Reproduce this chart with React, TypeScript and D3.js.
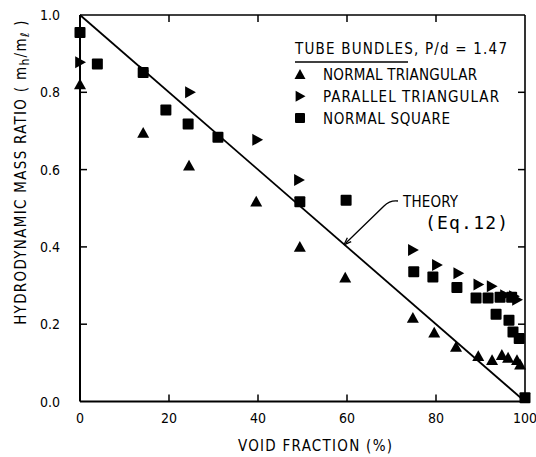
import React from "react";
import * as d3 from "d3";

const xTicks = [0, 20, 40, 60, 80, 100];
const yTicks = [0.0, 0.2, 0.4, 0.6, 0.8, 1.0];

const normalTriangularX = [0, 14.2, 24.5, 39.6, 49.4, 59.6, 74.8, 79.6, 84.5, 89.5, 92.6, 94.8, 96.2, 98.2, 98.9];
const normalTriangularY = [0.82, 0.695, 0.61, 0.517, 0.40, 0.32, 0.216, 0.178, 0.141, 0.117, 0.107, 0.12, 0.113, 0.107, 0.095];

const parallelTriangularX = [0, 14.2, 24.7, 39.8, 49.2, 74.8, 80.2, 85, 89.5, 92.5, 95.5, 97.5, 98.2];
const parallelTriangularY = [0.878, 0.855, 0.80, 0.677, 0.573, 0.392, 0.353, 0.332, 0.303, 0.298, 0.275, 0.272, 0.263];

const normalSquareX = [0, 3.9, 14.2, 19.3, 24.3, 31, 49.4, 59.8, 75, 79.3, 84.7, 89, 91.7, 94.4, 97, 93.5, 96.4, 97.3, 98.7, 100];
const normalSquareY = [0.955, 0.873, 0.851, 0.754, 0.718, 0.684, 0.517, 0.521, 0.336, 0.322, 0.295, 0.268, 0.268, 0.27, 0.27, 0.226, 0.21, 0.18, 0.163, 0.01];

const theoryX = [0, 100];
const theoryY = [1.0, 0.0];

const legendTitle = "TUBE BUNDLES, P/d = 1.47";
const legendLabels = ["NORMAL TRIANGULAR", "PARALLEL TRIANGULAR", "NORMAL SQUARE"];
const legendWidths = [154, 176, 127];

export default function App() {
  const W = 536, H = 457;
  const left = 80, right = 525, top = 15, bottom = 401.5;
  const x = d3.scaleLinear().domain([0, 100]).range([left, right]);
  const y = d3.scaleLinear().domain([0, 1]).range([bottom, top]);
  const font = "'DejaVu Sans Condensed', 'DejaVu Sans', sans-serif";
  const mono = "'DejaVu Sans Mono', 'Liberation Mono', monospace";
  const line = d3.line<number>().x((_, i) => x(theoryX[i])).y((_, i) => y(theoryY[i]));

  const upTri = (cx: number, cy: number, s = 6) =>
    `M${cx},${cy - s}L${cx + s},${cy + s * 0.8}L${cx - s},${cy + s * 0.8}Z`;
  const rightTri = (cx: number, cy: number, s = 6) =>
    `M${cx + s},${cy}L${cx - s * 0.8},${cy - s}L${cx - s * 0.8},${cy + s}Z`;
  const square = (cx: number, cy: number, s = 5.5) =>
    `M${cx - s},${cy - s + 1}Q${cx - s},${cy - s} ${cx - s + 1},${cy - s}L${cx + s - 1},${cy - s}Q${cx + s},${cy - s} ${cx + s},${cy - s + 1}L${cx + s},${cy + s - 1}Q${cx + s},${cy + s} ${cx + s - 1},${cy + s}L${cx - s + 1},${cy + s}Q${cx - s},${cy + s} ${cx - s},${cy + s - 1}Z`;

  const tickLen = 7;
  const tipX = x(59.3), tipY = y(0.405);
  const leader = `M398,201 Q390,200 384,206 L${tipX + 2},${tipY - 2}`;
  const ang = Math.atan2(tipY - 206, tipX - 384);
  const ah = 8;
  const arrow = `M${tipX},${tipY}L${tipX - ah * Math.cos(ang - 0.35)},${tipY - ah * Math.sin(ang - 0.35)}M${tipX},${tipY}L${tipX - ah * Math.cos(ang + 0.35)},${tipY - ah * Math.sin(ang + 0.35)}`;

  return (
    <svg width={W} height={H} style={{ display: "block", position: "absolute", left: 0, top: 0, background: "#fff" }}>
      <line x1={left} y1={top} x2={right} y2={top} stroke="#000" strokeWidth={1.6} />
      <line x1={right} y1={top} x2={right} y2={bottom} stroke="#000" strokeWidth={1.6} />
      <line x1={left} y1={top} x2={left} y2={bottom} stroke="#000" strokeWidth={2} />
      <line x1={left} y1={bottom} x2={right} y2={bottom} stroke="#000" strokeWidth={2} />
      {xTicks.slice(1, -1).map((t) => (
        <g key={"xt" + t}>
          <line x1={x(t)} x2={x(t)} y1={bottom} y2={bottom - tickLen} stroke="#000" strokeWidth={1.5} />
          <line x1={x(t)} x2={x(t)} y1={top} y2={top + tickLen} stroke="#000" strokeWidth={1.5} />
        </g>
      ))}
      {yTicks.slice(1, -1).map((t) => (
        <g key={"yt" + t}>
          <line x1={left} x2={left + tickLen} y1={y(t)} y2={y(t)} stroke="#000" strokeWidth={1.5} />
          <line x1={right} x2={right - tickLen} y1={y(t)} y2={y(t)} stroke="#000" strokeWidth={1.5} />
        </g>
      ))}
      {xTicks.map((t) => (
        <text key={"xl" + t} x={x(t)} y={bottom + 21} textAnchor="middle" fontFamily={font} fontSize={14}>
          {t}
        </text>
      ))}
      {yTicks.map((t) => (
        <text key={"yl" + t} x={left - 20} y={y(t) + 5} textAnchor="end" fontFamily={font} fontSize={14}>
          {t.toFixed(1)}
        </text>
      ))}
      <text x={315} y={451} textAnchor="middle" fontFamily={font} fontSize={15} textLength={154} lengthAdjust="spacing">
        VOID FRACTION (%)
      </text>
      <text transform="translate(26,172) rotate(-90)" textAnchor="middle" fontFamily={font} fontSize={15} letterSpacing={1.3}>
        HYDRODYNAMIC MASS RATIO ( m
        <tspan fontSize={12} dy={3}>h</tspan>
        <tspan dy={-3}>/m</tspan>
        <tspan fontSize={12} dy={3}>ℓ</tspan>
        <tspan dy={-3}> )</tspan>
      </text>
      <path d={line(theoryX) || ""} fill="none" stroke="#000" strokeWidth={1.8} />
      {normalTriangularX.map((v, i) => (
        <path key={"nt" + i} d={upTri(x(v), y(normalTriangularY[i]))} fill="#000" />
      ))}
      {parallelTriangularX.map((v, i) => (
        <path key={"pt" + i} d={rightTri(x(v), y(parallelTriangularY[i]))} fill="#000" />
      ))}
      {normalSquareX.map((v, i) => (
        <path key={"ns" + i} d={square(x(v), y(normalSquareY[i]))} fill="#000" />
      ))}
      <text x={295} y={54} fontFamily={font} fontSize={15} textLength={212} lengthAdjust="spacing">
        {legendTitle}
      </text>
      <line x1={295} x2={408} y1={62} y2={62} stroke="#000" strokeWidth={1.4} />
      {legendLabels.map((lab, i) => {
        const cy = 74.5 + i * 21.8;
        const d = i === 0 ? upTri(300, cy, 5.5) : i === 1 ? rightTri(300, cy, 5.5) : square(300, cy, 5);
        return (
          <g key={"lg" + i}>
            <path d={d} fill="#000" />
            <text x={323} y={cy + 5.5} fontFamily={font} fontSize={15} textLength={legendWidths[i]} lengthAdjust="spacing">
              {lab}
            </text>
          </g>
        );
      })}
      <text x={403} y={207} fontFamily={font} fontSize={15} textLength={55} lengthAdjust="spacing">THEORY</text>
      <text x={425} y={229} fontFamily={mono} fontSize={18} letterSpacing={1.2}>(Eq.12)</text>
      <path d={leader} fill="none" stroke="#000" strokeWidth={1.3} />
      <path d={arrow} fill="none" stroke="#000" strokeWidth={1.3} />
    </svg>
  );
}
